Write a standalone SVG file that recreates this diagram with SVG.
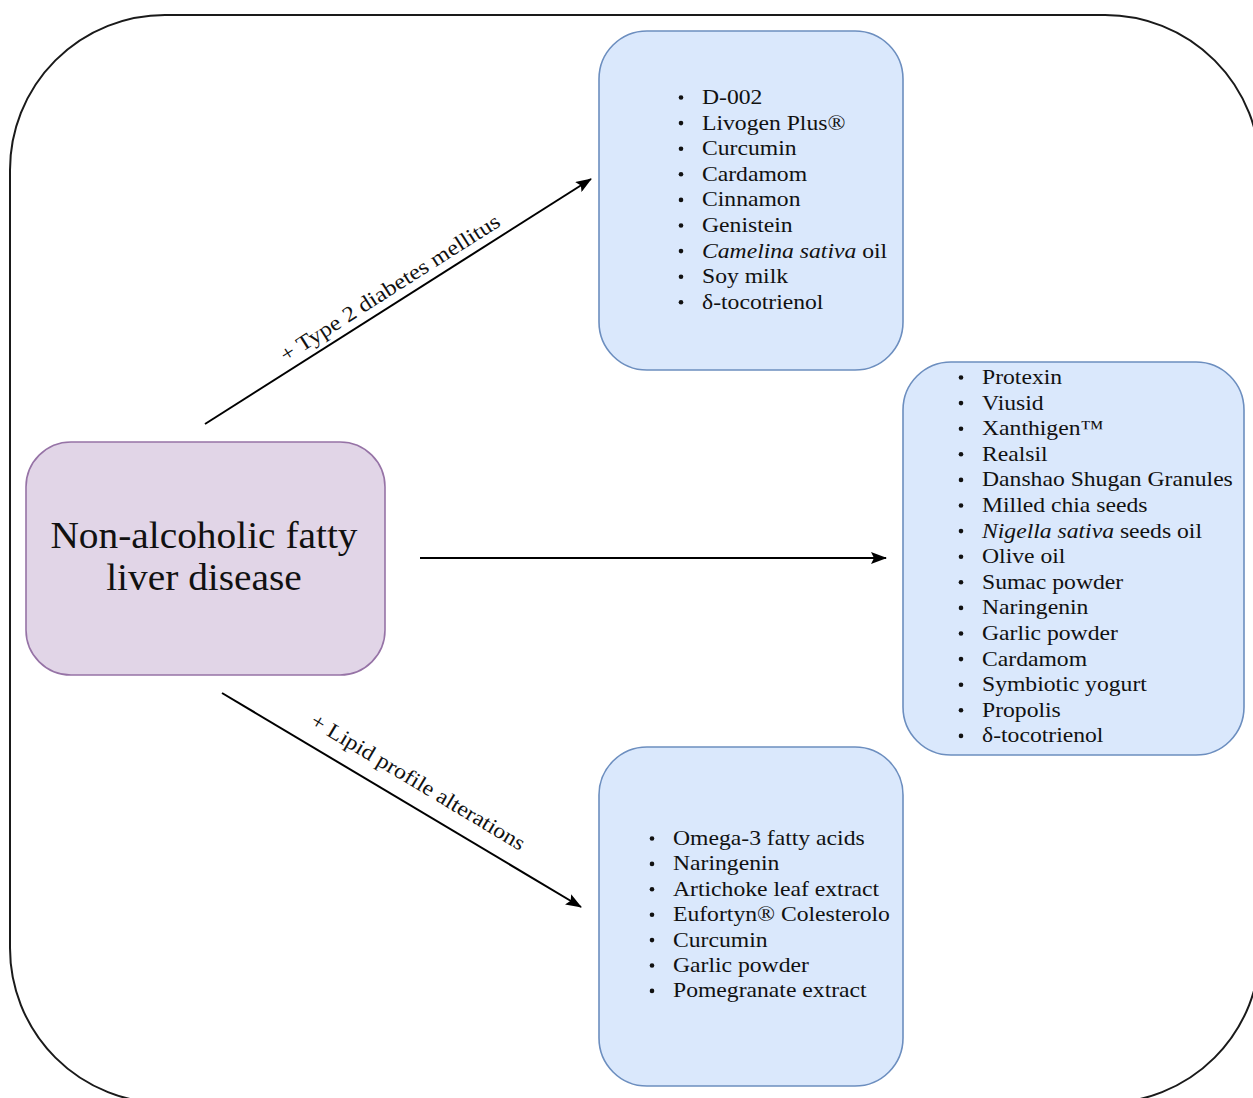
<svg xmlns="http://www.w3.org/2000/svg" width="1253" height="1098" viewBox="0 0 1253 1098">
<defs>
<marker id="ah" viewBox="0 0 16 12" refX="15" refY="6" markerWidth="16" markerHeight="12" markerUnits="userSpaceOnUse" orient="auto">
<path d="M0,0 L16,6 L0,12 L3,6 Z" fill="#000"/>
</marker>
</defs>
<style>
.frame{fill:#fff;stroke:#1a1a1a;stroke-width:2}
.blue{fill:#dae8fc;stroke:#6c8ebf;stroke-width:1.6}
.purple{fill:#e1d5e7;stroke:#9673a6;stroke-width:1.6}
.edge{stroke:#000;stroke-width:2;fill:none;marker-end:url(#ah)}
text{font-family:"Liberation Serif","Times New Roman",serif;fill:#111}
.li{font-size:21.5px}
.dot{fill:#111}
.lbl{font-size:21.5px}
.title{font-size:37.5px}
</style>
<rect x="0" y="0" width="1253" height="1098" fill="#fff"/>
<rect class="frame" x="10" y="15" width="1250" height="1088" rx="155" ry="155"/>

<g id="connectors">
<line class="edge" x1="205" y1="424" x2="591" y2="179"/>
<line class="edge" x1="420" y1="558" x2="886" y2="558"/>
<line class="edge" x1="222" y1="693" x2="581" y2="907"/>
<text class="lbl" text-anchor="middle" textLength="256" lengthAdjust="spacingAndGlyphs" transform="translate(393.7,293.9) rotate(-32.5)">+ Type 2 diabetes mellitus</text>
<text class="lbl" text-anchor="middle" textLength="246" lengthAdjust="spacingAndGlyphs" transform="translate(414.5,787.9) rotate(30.9)">+ Lipid profile alterations</text>
</g>

<g id="nafld">
<rect class="purple" x="26" y="442" width="359" height="233" rx="45" ry="45"/>
<g transform="translate(204,0) scale(1.05,1) translate(-204,0)">
<text class="title" text-anchor="middle" x="204" y="548">Non-alcoholic fatty</text>
<text class="title" text-anchor="middle" x="204" y="590">liver disease</text>
</g>
</g>

<g id="t2dm">
<rect class="blue" x="599" y="31" width="304" height="339" rx="48" ry="48"/>
<g class="dot"><circle cx="681" cy="97.5" r="2.3"/><circle cx="681" cy="123.1" r="2.3"/><circle cx="681" cy="148.7" r="2.3"/><circle cx="681" cy="174.3" r="2.3"/><circle cx="681" cy="199.9" r="2.3"/><circle cx="681" cy="225.5" r="2.3"/><circle cx="681" cy="251.1" r="2.3"/><circle cx="681" cy="276.7" r="2.3"/><circle cx="681" cy="302.3" r="2.3"/></g>
<g class="li" transform="translate(702,0) scale(1.1,1) translate(-702,0)">
<text x="702" y="104">D-002</text>
<text x="702" y="129.6">Livogen Plus®</text>
<text x="702" y="155.2">Curcumin</text>
<text x="702" y="180.8">Cardamom</text>
<text x="702" y="206.4">Cinnamon</text>
<text x="702" y="232">Genistein</text>
<text x="702" y="257.6"><tspan font-style="italic">Camelina sativa</tspan> oil</text>
<text x="702" y="283.2">Soy milk</text>
<text x="702" y="308.8">δ-tocotrienol</text>
</g>
</g>

<g id="general">
<rect class="blue" x="903" y="362" width="341" height="393" rx="48" ry="48"/>
<g class="dot"><circle cx="961" cy="377.5" r="2.3"/><circle cx="961" cy="403.1" r="2.3"/><circle cx="961" cy="428.7" r="2.3"/><circle cx="961" cy="454.3" r="2.3"/><circle cx="961" cy="479.9" r="2.3"/><circle cx="961" cy="505.5" r="2.3"/><circle cx="961" cy="531.1" r="2.3"/><circle cx="961" cy="556.7" r="2.3"/><circle cx="961" cy="582.3" r="2.3"/><circle cx="961" cy="607.9" r="2.3"/><circle cx="961" cy="633.5" r="2.3"/><circle cx="961" cy="659.1" r="2.3"/><circle cx="961" cy="684.7" r="2.3"/><circle cx="961" cy="710.3" r="2.3"/><circle cx="961" cy="735.9" r="2.3"/></g>
<g class="li" transform="translate(982,0) scale(1.1,1) translate(-982,0)">
<text x="982" y="384">Protexin</text>
<text x="982" y="409.6">Viusid</text>
<text x="982" y="435.2">Xanthigen™</text>
<text x="982" y="460.8">Realsil</text>
<text x="982" y="486.4">Danshao Shugan Granules</text>
<text x="982" y="512">Milled chia seeds</text>
<text x="982" y="537.6"><tspan font-style="italic">Nigella sativa</tspan> seeds oil</text>
<text x="982" y="563.2">Olive oil</text>
<text x="982" y="588.8">Sumac powder</text>
<text x="982" y="614.4">Naringenin</text>
<text x="982" y="640">Garlic powder</text>
<text x="982" y="665.6">Cardamom</text>
<text x="982" y="691.2">Symbiotic yogurt</text>
<text x="982" y="716.8">Propolis</text>
<text x="982" y="742.4">δ-tocotrienol</text>
</g>
</g>

<g id="lipid">
<rect class="blue" x="599" y="747" width="304" height="339" rx="48" ry="48"/>
<g class="dot"><circle cx="652" cy="838.5" r="2.3"/><circle cx="652" cy="863.9" r="2.3"/><circle cx="652" cy="889.3" r="2.3"/><circle cx="652" cy="914.7" r="2.3"/><circle cx="652" cy="940.1" r="2.3"/><circle cx="652" cy="965.5" r="2.3"/><circle cx="652" cy="990.9" r="2.3"/></g>
<g class="li" transform="translate(673,0) scale(1.1,1) translate(-673,0)">
<text x="673" y="845">Omega-3 fatty acids</text>
<text x="673" y="870.4">Naringenin</text>
<text x="673" y="895.8">Artichoke leaf extract</text>
<text x="673" y="921.2">Eufortyn® Colesterolo</text>
<text x="673" y="946.6">Curcumin</text>
<text x="673" y="972">Garlic powder</text>
<text x="673" y="997.4">Pomegranate extract</text>
</g>
</g>
</svg>
